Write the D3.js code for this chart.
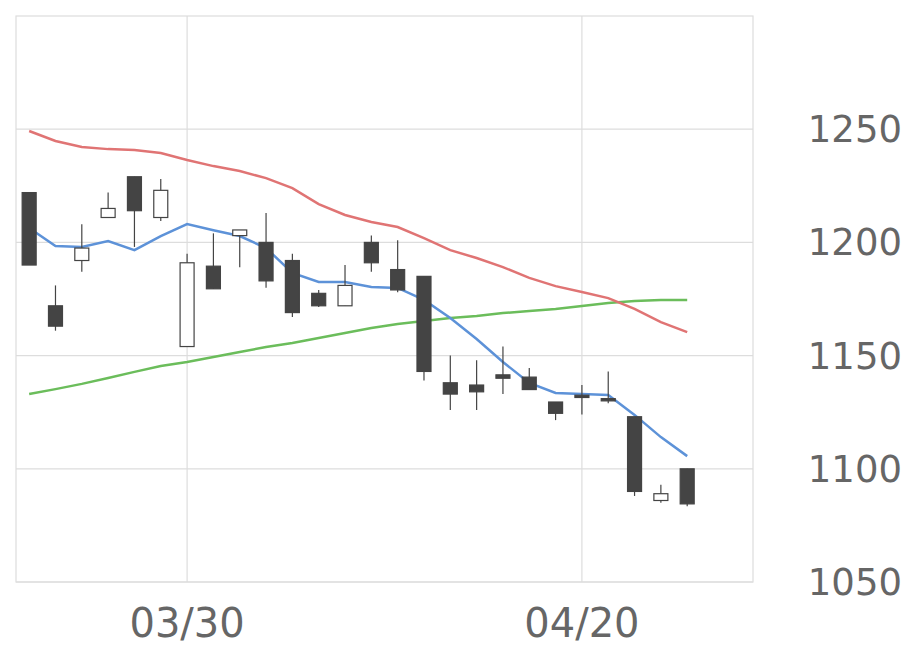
<!DOCTYPE html>
<html><head><meta charset="utf-8">
<script src="https://cdn.jsdelivr.net/npm/d3@7"></script>
<style>body{margin:0;background:#fff}svg{display:block}</style>
</head><body><svg id="chart" width="920" height="669"></svg>
<script>
var dates = ["03/20","03/23","03/24","03/25","03/26","03/27","03/30","03/31","04/01","04/02","04/03","04/06","04/07","04/08","04/09","04/10","04/13","04/14","04/15","04/16","04/17","04/20","04/21","04/22","04/23","04/24"];
var openV  = [1222,1172,1192,1211,1229,1211,1154,1189.5,1203,1200,1192,1177.5,1172,1200,1188,1185,1138,1137,1141.5,1140.5,1129.5,1132.5,1131,1123,1086,1100];
var closeV = [1190,1163,1197.5,1215,1214,1223,1191,1179.5,1205.5,1183,1169,1172,1181,1191,1179,1143,1133,1134,1140,1135,1124.5,1131.5,1130,1090,1089,1084.5];
var highV  = [1222,1181,1208,1222,1229,1228,1195,1204,1205.5,1213,1195,1179,1190,1203,1201,1185,1150,1148,1154,1144.5,1129.5,1137,1143,1123,1093,1100];
var lowV   = [1190,1161,1187,1211,1198,1209.5,1154,1179.5,1189,1180,1167,1171.5,1172,1187,1178,1139,1126,1126,1133,1135,1121.5,1124,1129,1088,1085,1083.5];
var ma5  = [1206.4,1198.4,1198,1200.6,1196.6,1202.8,1208.1,1205.4,1202.8,1197.5,1186.5,1182.5,1182.5,1180.3,1179.9,1174.6,1166.6,1157.3,1147.2,1137.9,1133.5,1133,1132.6,1123.8,1114,1105.6];
var ma25 = [1249.2,1244.8,1242.1,1241.2,1240.8,1239.5,1236.4,1233.7,1231.5,1228.4,1224,1216.9,1212.1,1209,1206.8,1201.9,1196.6,1193.1,1189.1,1184.3,1180.7,1178.1,1175.4,1170.6,1164.8,1160.4];
var ma75 = [1133,1135.2,1137.5,1140.1,1142.8,1145.4,1147.2,1149.4,1151.6,1153.8,1155.6,1157.8,1160,1162.2,1164,1165.3,1166.6,1167.5,1168.8,1169.7,1170.6,1171.9,1173.2,1174.1,1174.6,1174.6];
var yTicks = [1050,1100,1150,1200,1250];
var xTickIdx = [6,21];

var svg = d3.select("#chart");
var pLeft = 16, pRight = 753, pTop = 16, pBottom = 582;
var x = d3.scaleLinear().domain([-0.5,27.5]).range([pLeft,pRight]);
var y = d3.scaleLinear().domain([1050,1300]).range([pBottom,pTop]);

svg.append("g").selectAll("line").data(yTicks).join("line")
  .attr("x1",pLeft).attr("x2",pRight).attr("y1",d=>y(d)).attr("y2",d=>y(d))
  .attr("stroke","#dddddd").attr("stroke-width",1.2);
svg.append("g").selectAll("line").data(xTickIdx).join("line")
  .attr("x1",d=>x(d)).attr("x2",d=>x(d)).attr("y1",pTop).attr("y2",pBottom)
  .attr("stroke","#dddddd").attr("stroke-width",1.2);
svg.append("rect").attr("x",pLeft).attr("y",pTop).attr("width",pRight-pLeft).attr("height",pBottom-pTop)
  .attr("fill","none").attr("stroke","#dddddd").attr("stroke-width",1.2);

svg.append("g").selectAll("text").data(yTicks).join("text")
  .attr("x",902).attr("y",d=>y(d)+13).attr("text-anchor","end")
  .attr("font-family","DejaVu Sans").attr("font-size",37).attr("fill","#666")
  .text(d=>d);
svg.append("g").selectAll("text").data(xTickIdx).join("text")
  .attr("x",d=>x(d)).attr("y",637).attr("text-anchor","middle")
  .attr("font-family","DejaVu Sans").attr("font-size",40).attr("fill","#666")
  .text(d=>dates[d]);

var line = d3.line().x((d,i)=>x(i)).y(d=>y(d));
[[ma75,"#6bbd5b"],[ma25,"#e07474"],[ma5,"#5d92d8"]].forEach(function(s){
  svg.append("path").datum(s[0]).attr("d",line).attr("fill","none")
    .attr("stroke",s[1]).attr("stroke-width",2.5);
});

var c = svg.append("g").selectAll("g").data(dates).join("g");
c.append("line").attr("x1",(d,i)=>x(i)).attr("x2",(d,i)=>x(i))
  .attr("y1",(d,i)=>y(highV[i])).attr("y2",(d,i)=>y(lowV[i]))
  .attr("stroke","#444").attr("stroke-width",1.2);
c.append("rect").attr("x",(d,i)=>x(i)-7).attr("width",14)
  .attr("y",(d,i)=>y(Math.max(openV[i],closeV[i])))
  .attr("height",(d,i)=>Math.max(1.5,Math.abs(y(openV[i])-y(closeV[i]))))
  .attr("fill",(d,i)=>closeV[i]>openV[i]?"#fff":"#444")
  .attr("stroke","#444").attr("stroke-width",1.2);
</script></body></html>
